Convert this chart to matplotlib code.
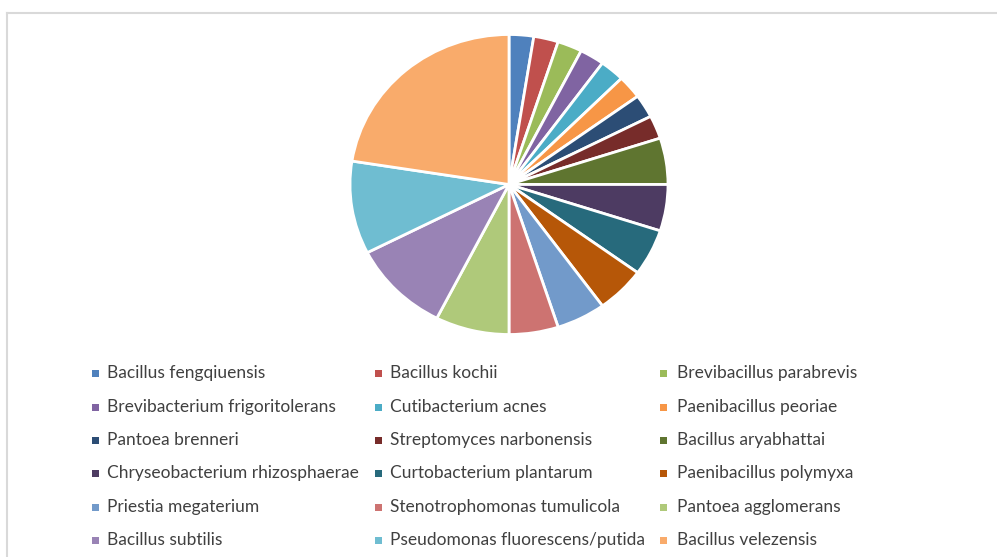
import matplotlib
matplotlib.use("Agg")
import matplotlib.pyplot as plt
from matplotlib.patches import Rectangle
from matplotlib.lines import Line2D

species = [
    "Bacillus fengqiuensis", "Bacillus kochii", "Brevibacillus parabrevis",
    "Brevibacterium frigoritolerans", "Cutibacterium acnes", "Paenibacillus peoriae",
    "Pantoea brenneri", "Streptomyces narbonensis", "Bacillus aryabhattai",
    "Chryseobacterium rhizosphaerae", "Curtobacterium plantarum", "Paenibacillus polymyxa",
    "Priestia megaterium", "Stenotrophomonas tumulicola", "Pantoea agglomerans",
    "Bacillus subtilis", "Pseudomonas fluorescens/putida", "Bacillus velezensis",
]
counts = [1, 1, 1, 1, 1, 1, 1, 1, 2, 2, 2, 2, 2, 2, 3, 4, 4, 9]
colors = [
    "#4F81BD", "#C0504D", "#9BBB59", "#8064A2", "#4BACC6", "#F79646",
    "#2C4D75", "#772C2A", "#5F7530", "#4D3B62", "#276A7C", "#B65708",
    "#729ACA", "#CD7371", "#AFC97A", "#9983B5", "#6FBDD1", "#F9AB6B",
]

W, H = 997, 557
fig = plt.figure(figsize=(W / 100, H / 100), dpi=100)
fig.patch.set_facecolor("white")

# chart frame
fig.add_artist(Line2D([7 / W, 7 / W], [0, 1 - 13 / H], color="#D9D9D9", lw=1.5))
fig.add_artist(Line2D([7 / W, 1], [1 - 13 / H, 1 - 13 / H], color="#D9D9D9", lw=1.5))

cx, cy, rx, ry = 509, 184.5, 159, 150
ax = fig.add_axes([(cx - rx) / W, (H - cy - ry) / H, 2 * rx / W, 2 * ry / H])
ax.pie(counts, colors=colors, startangle=90, counterclock=False,
       wedgeprops=dict(edgecolor="white", linewidth=2))
ax.set_xlim(-1, 1)
ax.set_ylim(-1, 1)
ax.set_aspect("auto")
ax.axis("off")

col_marker_x = [95, 378, 663]
col_text_x = [107, 390, 677]
row_y = [373, 407, 440, 473, 507, 540]
for i, (name, c) in enumerate(zip(species, colors)):
    row, col = divmod(i, 3)
    mx, my = col_marker_x[col], row_y[row]
    fig.add_artist(Rectangle(((mx - 3.5) / W, 1 - (my + 3.5) / H), 7 / W, 7 / H,
                             facecolor=c, edgecolor="none", transform=fig.transFigure))
    fig.text(col_text_x[col] / W, 1 - my / H, name, fontsize=12.5, color="#404040",
             va="center", ha="left", family="Lato")

fig.savefig("out.png", dpi=100, facecolor="white")
